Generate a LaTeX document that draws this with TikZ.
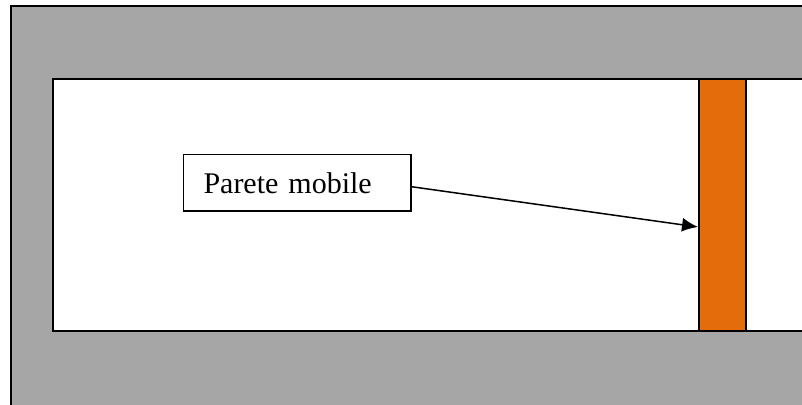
\documentclass[tikz,border=0pt]{standalone}
\usepackage{fontspec}
\setmainfont{Liberation Serif}
\usetikzlibrary{arrows.meta}
\definecolor{wallgray}{RGB}{166,166,166}
\definecolor{wallorange}{RGB}{228,108,10}
\tikzset{
  outline/.style={draw=black, line width=1pt},
  labelbox/.style={draw=black, line width=0.8pt, fill=white, inner xsep=10pt, inner ysep=0pt,
    text width=93.75pt, align=left,
    minimum height=28.25pt, font=\fontsize{15}{18}\selectfont},
  barbox/.style={draw=black, line width=1pt, fill=wallorange, inner sep=0pt,
    minimum width=23.5pt, minimum height=126pt},
  pointer/.style={draw=black, line width=0.75pt, -{Latex[length=8pt,width=7pt]}}
}
\begin{document}
\begin{tikzpicture}[x=0.5pt, y=-0.5pt]
\useasboundingbox (0,0) rectangle (802,405);
\fill[white] (0,0) rectangle (802,405);
\draw[outline, fill=wallgray] (10.5,6.5) rectangle (812,415);
\draw[outline, fill=white] (53,79) rectangle (812,331);
\node[barbox] (bar) at (722.5,205) {};
\node[labelbox] (lab) at (297.25,182.75) {Parete mobile};
\coordinate (start) at ([yshift=-2pt]lab.east);
\coordinate (end) at ([yshift=-11pt]bar.west);
\draw[pointer] (start) -- (end);
\end{tikzpicture}
\end{document}
